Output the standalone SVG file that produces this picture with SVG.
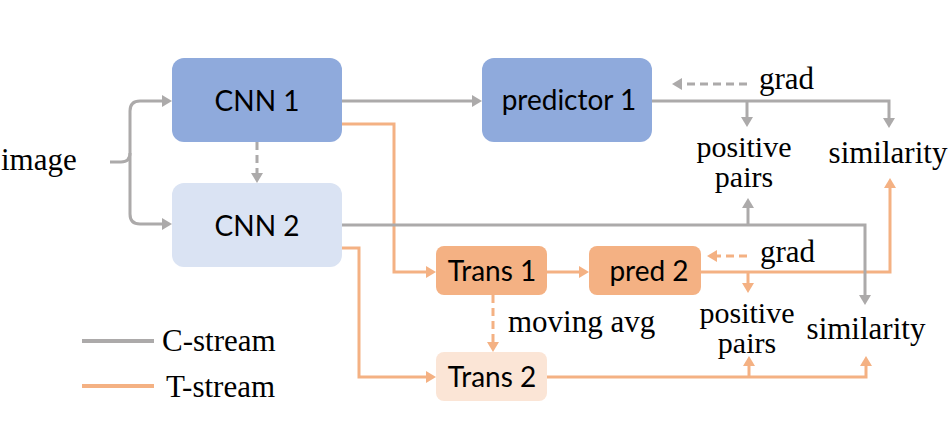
<svg xmlns="http://www.w3.org/2000/svg" width="950" height="442" viewBox="0 0 950 442">
<style>
.sans{font-family:Lato,"Open Sans","Liberation Sans",sans-serif;font-size:28px;fill:#000;text-anchor:middle}
.serif{font-family:"Liberation Serif","Times New Roman",serif;font-size:31px;fill:#000}
.stack{font-size:30px}
.mid{text-anchor:middle}
.g{fill:none;stroke:#acaaaa;stroke-width:3}
.o{fill:none;stroke:#f4b183;stroke-width:3}
.d{stroke-dasharray:8 5}
</style>
<defs>
<marker id="ag" viewBox="0 0 10 12" refX="6" refY="6" markerWidth="10" markerHeight="12" markerUnits="userSpaceOnUse" orient="auto"><path d="M0,0 L10,6 L0,12 z" fill="#acaaaa"/></marker>
<marker id="ao" viewBox="0 0 10 12" refX="6" refY="6" markerWidth="10" markerHeight="12" markerUnits="userSpaceOnUse" orient="auto"><path d="M0,0 L10,6 L0,12 z" fill="#f4b183"/></marker>
</defs>
<rect width="950" height="442" fill="#fff"/>
<g id="connectors">
<path class="o" d="M342,124 H394 V272 H432" marker-end="url(#ao)"/>
<path class="o" d="M547,272 H585" marker-end="url(#ao)"/>
<path class="o d" d="M493,295 V348" marker-end="url(#ao)"/>
<path class="o" d="M342,248 H359 V377 H432" marker-end="url(#ao)"/>
<path class="o" d="M701,272 H890 V182" marker-end="url(#ao)"/>
<path class="o" d="M748,272 V289" marker-end="url(#ao)"/>
<path class="o d" d="M747,256 H711" marker-end="url(#ao)"/>
<path class="o" d="M547,377 H866 V360" marker-end="url(#ao)"/>
<path class="o" d="M749,377 V360" marker-end="url(#ao)"/>
<path class="g" d="M110,162 H121 Q130,162 130,153 V111 Q130,101 140,101 H168" marker-end="url(#ag)"/>
<path class="g" d="M130,153 V214 Q130,224 140,224 H168" marker-end="url(#ag)"/>
<path class="g" d="M342,101 H478" marker-end="url(#ag)"/>
<path class="g d" d="M257,142 V179" marker-end="url(#ag)"/>
<path class="g" d="M652,101 H889 V124" marker-end="url(#ag)"/>
<path class="g" d="M747,101 V123" marker-end="url(#ag)"/>
<path class="g d" d="M747,84 H676" marker-end="url(#ag)"/>
<path class="g" d="M342,225 H865 V301" marker-end="url(#ag)"/>
<path class="g" d="M748,225 V202" marker-end="url(#ag)"/>
</g>
<g id="cnn1"><rect x="172" y="58" width="170" height="84" rx="12" fill="#8faadc"/><text class="sans" x="257" y="111">CNN 1</text></g>
<g id="cnn2"><rect x="172" y="183" width="170" height="84" rx="12" fill="#dae3f3"/><text class="sans" x="257" y="236">CNN 2</text></g>
<g id="predictor1"><rect x="482" y="58" width="170" height="84" rx="12" fill="#8faadc"/><text class="sans" x="569" y="110">predictor 1</text></g>
<g id="trans1"><rect x="436" y="246" width="111" height="49" rx="8" fill="#f4b183"/><text class="sans" x="492" y="281">Trans 1</text></g>
<g id="pred2"><rect x="589" y="246" width="112" height="49" rx="8" fill="#f4b183"/><text class="sans" x="649" y="281">pred 2</text></g>
<g id="trans2"><rect x="436" y="352" width="111" height="49" rx="8" fill="#fbe5d6"/><text class="sans" x="492" y="387">Trans 2</text></g>
<g id="labels">
<text class="serif" x="1" y="170">image</text>
<text class="serif" x="759" y="89">grad</text>
<text class="serif" x="760" y="262">grad</text>
<text class="serif" x="508" y="332">moving avg</text>
<text class="serif mid stack" x="744" y="157">positive</text>
<text class="serif mid stack" x="744" y="187">pairs</text>
<text class="serif mid" x="888" y="163">similarity</text>
<text class="serif mid stack" x="747" y="323">positive</text>
<text class="serif mid stack" x="747" y="353">pairs</text>
<text class="serif mid" x="866" y="339">similarity</text>
</g>
<g id="legend">
<line x1="82" y1="341" x2="154" y2="341" stroke="#acaaaa" stroke-width="4"/>
<line x1="82" y1="386" x2="154" y2="386" stroke="#f4b183" stroke-width="4"/>
<text class="serif" x="162" y="351">C-stream</text>
<text class="serif" x="166" y="397">T-stream</text>
</g>
</svg>
